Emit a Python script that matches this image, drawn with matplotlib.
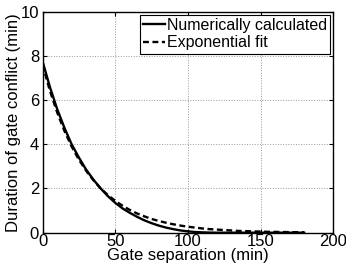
import numpy as np
from matplotlib import pyplot as plt

# gate separation (min)
separation = list(range(0, 185, 5))

# duration of gate conflict (min)
numerical = [7.75, 6.6, 5.6, 4.75, 4.0, 3.4, 2.85, 2.4, 2.0, 1.65,
             1.35, 1.1, 0.9, 0.72, 0.56, 0.43, 0.32, 0.23, 0.16, 0.1,
             0.06, 0.03, 0.015, 0.005, 0.0, 0.0, 0.0, 0.0, 0.0, 0.0,
             0.0, 0.0, 0.0, 0.0, 0.0, 0.0, 0.0]
exp_fit = [7.6, 6.43, 5.45, 4.61, 3.9, 3.3, 2.8, 2.37, 2.0, 1.7,
           1.44, 1.22, 1.03, 0.87, 0.74, 0.62, 0.53, 0.45, 0.38, 0.32,
           0.27, 0.23, 0.19, 0.16, 0.14, 0.12, 0.1, 0.08, 0.07, 0.06,
           0.05, 0.04, 0.036, 0.03, 0.026, 0.022, 0.018]

x_ticks = [0, 50, 100, 150, 200]
y_ticks = [0, 2, 4, 6, 8, 10]

plt.rcParams['font.family'] = ['Liberation Sans', 'DejaVu Sans']
plt.rcParams['font.size'] = 12

fig = plt.figure(figsize=(3.46, 2.69), dpi=100)
ax = fig.add_axes([0.123, 0.135, 0.840, 0.822])

ax.plot(separation, numerical, color='black', lw=1.7, label='Numerically calculated')
ax.plot(separation, exp_fit, color='black', lw=1.7, ls=(0, (2.5, 1.5)), label='Exponential fit')

ax.set_xlim(0, 200)
ax.set_ylim(0, 10)
ax.set_xticks(x_ticks)
ax.set_yticks(y_ticks)
ax.tick_params(direction='in', length=3, width=0.8, top=True, right=True)
ax.tick_params(axis='x', pad=1)
ax.tick_params(axis='y', pad=2.5)
ax.grid(True, color='#999999', ls=':', lw=0.7)
for s in ax.spines.values():
    s.set_linewidth(1.0)

ax.set_xlabel('Gate separation (min)', labelpad=-1)
ax.set_ylabel('Duration of gate conflict (min)', labelpad=0)

leg = ax.legend(loc='upper right', fancybox=False, edgecolor='black',
                framealpha=1, handlelength=1.4, handletextpad=0.1,
                borderaxespad=0.2, borderpad=0.2, labelspacing=0.15,
                fontsize=11.5)
leg.get_frame().set_linewidth(0.8)

fig.savefig('out.png', dpi=100)
